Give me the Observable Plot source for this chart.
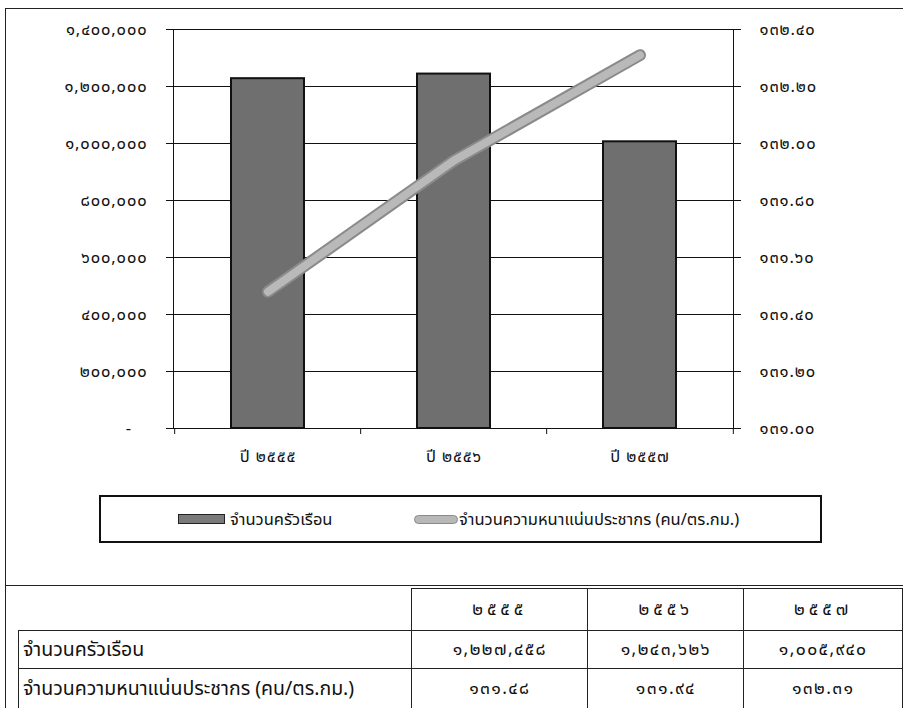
<!DOCTYPE html>
<html>
<head>
<meta charset="utf-8">
<script src="https://cdn.jsdelivr.net/npm/d3@7"></script>
<script src="https://cdn.jsdelivr.net/npm/@observablehq/plot@0.6"></script>
<style>
  html, body { margin: 0; padding: 0; background: #fff; }
  body { width: 903px; height: 708px; overflow: hidden; position: relative;
         font-family: Tahoma, "Noto Sans Thai", "Noto Sans", sans-serif; }
  .ln { position: absolute; background: #222; }
  #chart { position: absolute; left: 0; top: 0; }
  #legend { position: absolute; left: 99px; top: 495px; width: 723px; height: 48px;
            border: 2px solid #111; box-sizing: border-box; background: #fff; }
  .lg-item { position: absolute; top: 0; height: 44px; display: flex; align-items: center;
             font-size: 16.5px; color: #111; }
  .sw-bar { width: 45px; height: 8px; background: #7a7a7a; border: 1px solid #222; margin-right: 5px; }
  .sw-line { width: 42px; height: 7px; background: #b8b8b8; border: 1px solid #8a8a8a; border-radius: 5px; margin-right: 1px; }
  #tbl { position: absolute; left: 18px; top: 588px; border-collapse: collapse; table-layout: fixed; }
  #tbl td { border: 1px solid #222; color: #111; padding: 0; }
  #tbl td.lab { text-align: left; padding-left: 4px; font-size: 19.5px; }
  #tbl td.num { text-align: center; font-size: 17.5px; letter-spacing: 1.4px; }
  #tbl td.hdr { text-align: center; font-size: 17.5px; letter-spacing: 4px; }
</style>
</head>
<body>
<div id="chart"></div>
<div class="ln" style="left:5px;top:8px;width:898px;height:1px"></div>
<div class="ln" style="left:5px;top:8px;width:1px;height:700px"></div>
<div class="ln" style="left:5px;top:585px;width:898px;height:1px"></div>
<div id="legend"></div>
<table id="tbl"></table>
<script>
// ---- data ----
const categories = ["ปี ๒๕๕๕", "ปี ๒๕๕๖", "ปี ๒๕๕๗"];
const tableYears = ["๒๕๕๕", "๒๕๕๖", "๒๕๕๗"];
const households = [1227458, 1243626, 1005940];
const density = [131.48, 131.94, 132.31];
const leftTicks = [0, 200000, 400000, 600000, 800000, 1000000, 1200000, 1400000];
const rightTicks = [131.00, 131.20, 131.40, 131.60, 131.80, 132.00, 132.20, 132.40];
const seriesNames = ["จำนวนครัวเรือน", "จำนวนความหนาแน่นประชากร (คน/ตร.กม.)"];

// ---- helpers ----
const thai = s => String(s).replace(/\d/g, d => "๐๑๒๓๔๕๖๗๘๙"[d]);
const leftMax = leftTicks[leftTicks.length - 1];
const rMin = rightTicks[0], rMax = rightTicks[rightTicks.length - 1];
const toLeft = v => (v - rMin) / (rMax - rMin) * leftMax;
const fromLeft = v => rMin + v / leftMax * (rMax - rMin);

const rows = categories.map((c, i) => ({cat: c, hh: households[i], dens: density[i]}));

const W = 903, H = 480, mL = 173, mR = 170, mT = 29, mB = 52;
const step = (W - mL - mR) / categories.length;
const font = 'Tahoma, "Noto Sans Thai", "Noto Sans", sans-serif';

const chart = Plot.plot({
  width: W, height: H,
  marginLeft: mL, marginRight: mR, marginTop: mT, marginBottom: mB,
  style: {fontFamily: font, fontSize: "16.5px", color: "#111", background: "transparent", letterSpacing: "0.9px"},
  x: {domain: categories, paddingInner: 0.61, paddingOuter: 0.305, label: null},
  y: {domain: [0, leftMax], label: null},
  marks: [
    Plot.gridY(leftTicks, {stroke: "#111", strokeOpacity: 1, strokeWidth: 1}),
    Plot.frame({stroke: "#111", strokeWidth: 1}),
    Plot.axisY(leftTicks, {anchor: "left", tickSize: 7, tickPadding: 19, stroke: "#111",
      tickFormat: d => d === 0 ? "-\u00a0\u00a0\u00a0" : thai(d3.format(",")(d)), fontSize: 16.5}),
    Plot.axisY(rightTicks.map(toLeft), {anchor: "right", tickSize: 7, tickPadding: 19, stroke: "#111",
      tickFormat: d => thai(fromLeft(d).toFixed(2)), fontSize: 16.5}),
    Plot.axisX({anchor: "bottom", tickSize: 0, tickPadding: 22, fontSize: 16.5}),
    Plot.ruleX(categories, {x: d => d, dx: -step / 2, y1: 0, y2: 0, insetBottom: -6, stroke: "#111"}),
    Plot.ruleX(categories.slice(-1), {x: d => d, dx: step / 2, y1: 0, y2: 0, insetBottom: -6, stroke: "#111"}),
    Plot.barY(rows, {x: "cat", y: "hh", fill: "#6f6f6f", stroke: "#111", strokeWidth: 2}),
    Plot.line(rows, {x: "cat", y: d => toLeft(d.dens), stroke: "#8a8a8a", strokeWidth: 12, strokeLinecap: "round"}),
    Plot.line(rows, {x: "cat", y: d => toLeft(d.dens), stroke: "#b9b9b9", strokeWidth: 8, strokeLinecap: "round"})
  ]
});
document.getElementById("chart").appendChild(chart);

// ---- legend ----
const legend = document.getElementById("legend");
legend.innerHTML =
  `<div class="lg-item" style="left:77px"><span class="sw-bar"></span>${seriesNames[0]}</div>` +
  `<div class="lg-item" style="left:313px"><span class="sw-line"></span>${seriesNames[1]}</div>`;

// ---- table ----
const colW = [399, 178, 157, 160];
const tbl = document.getElementById("tbl");
let html = "<colgroup>" + colW.map(w => `<col style="width:${w}px">`).join("") + "</colgroup>";
html += `<tr style="height:42px"><td style="border-left:none;border-top:none"></td>` +
  tableYears.map(y => `<td class="hdr">${y}</td>`).join("") + "</tr>";
html += `<tr style="height:38px"><td class="lab">${seriesNames[0]}</td>` +
  households.map(v => `<td class="num">${thai(d3.format(",")(v))}</td>`).join("") + "</tr>";
html += `<tr style="height:40px"><td class="lab">${seriesNames[1]}</td>` +
  density.map(v => `<td class="num">${thai(v.toFixed(2))}</td>`).join("") + "</tr>";
tbl.innerHTML = html;
</script>
</body>
</html>
